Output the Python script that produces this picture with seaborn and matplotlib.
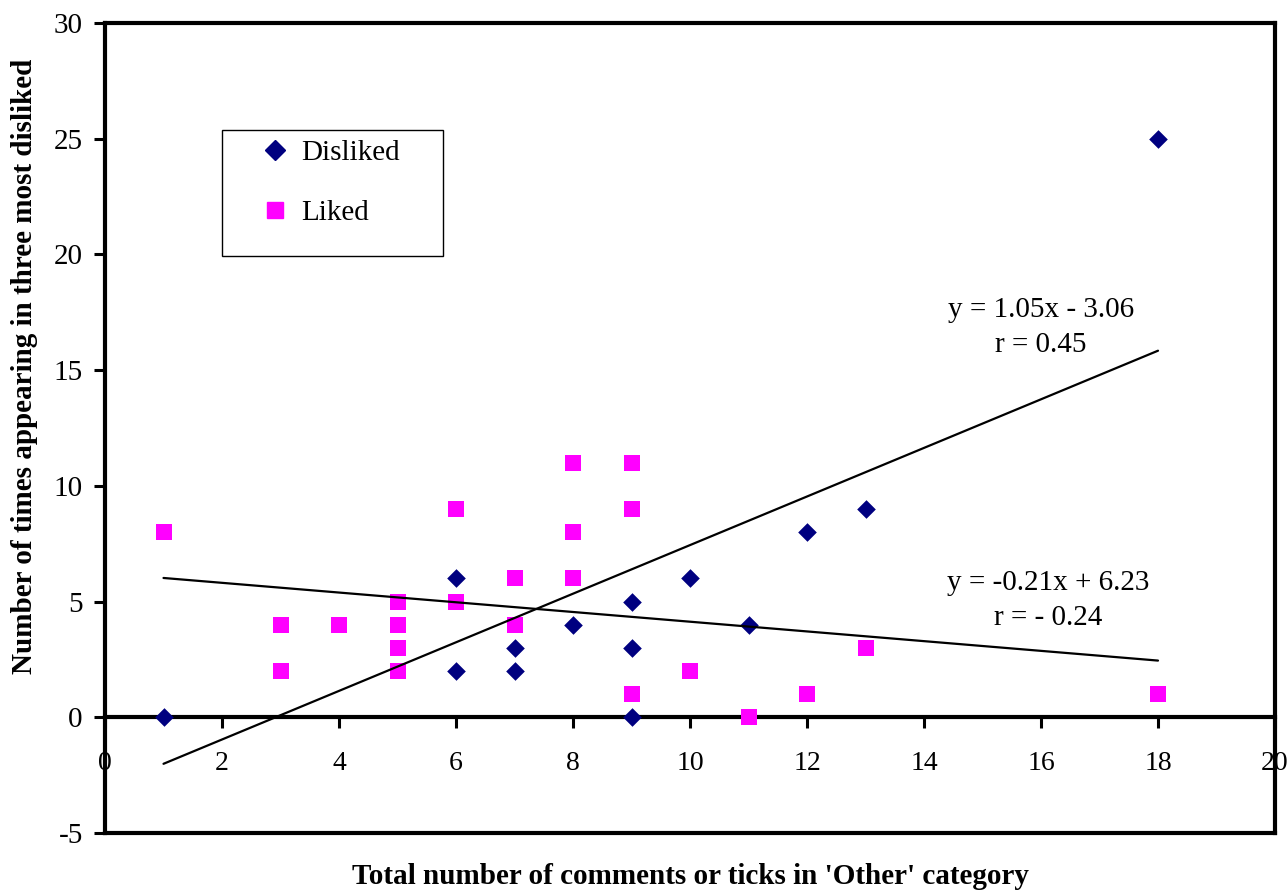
import matplotlib
matplotlib.use("Agg")
import matplotlib.pyplot as plt
import seaborn as sns
import pandas as pd
from matplotlib.lines import Line2D
from matplotlib.patches import Rectangle

# ---- data ----
disliked_x = [1, 18, 13, 12, 6, 10, 9, 8, 11, 7, 9, 6, 7, 9]
disliked_y = [0, 25, 9, 8, 6, 6, 5, 4, 4, 3, 3, 2, 2, 0]
liked_x = [1, 3, 3, 4, 5, 5, 5, 5, 6, 6, 7, 7, 8, 8, 8, 9, 9, 9, 10, 11, 12, 13, 18]
liked_y = [8, 4, 2, 4, 5, 4, 3, 2, 9, 5, 6, 4, 11, 8, 6, 11, 9, 1, 2, 0, 1, 3, 1]

fit_names = ["Disliked", "Liked"]
fit_slopes = [1.05, -0.21]
fit_intercepts = [-3.06, 6.23]
fit_xrange = [1, 18]
fit_labels = ["y = 1.05x - 3.06\nr = 0.45", "y = -0.21x + 6.23\nr = - 0.24"]
fit_label_pos = [(16.0, 16.84), (16.12, 5.05)]

x_ticks = [0, 2, 4, 6, 8, 10, 12, 14, 16, 18, 20]
y_ticks = [-5, 0, 5, 10, 15, 20, 25, 30]

xlabel = "Total number of comments or ticks in 'Other' category"
ylabel = "Number of times appearing in three most disliked"

NAVY = "#000080"
MAGENTA = "#FF00FF"

# ---- style ----
sns.set_style("white")
plt.rcParams["font.family"] = ["Liberation Serif", "DejaVu Serif"]
for k in ["text.color", "axes.labelcolor", "xtick.color", "ytick.color"]:
    plt.rcParams[k] = "black"

fig = plt.figure(figsize=(12.87, 8.9), dpi=100)
ax = fig.add_axes([105 / 1287, 1 - 833 / 890, (1275 - 105) / 1287, (833 - 23) / 890])

df_d = pd.DataFrame({"x": disliked_x, "y": disliked_y})
df_l = pd.DataFrame({"x": liked_x, "y": liked_y})

sns.scatterplot(data=df_d, x="x", y="y", ax=ax, marker="D", s=90, color=NAVY,
                edgecolor=NAVY, linewidth=0, zorder=3)
sns.scatterplot(data=df_l, x="x", y="y", ax=ax, marker="s", s=135, color=MAGENTA,
                edgecolor=MAGENTA, linewidth=0, zorder=4)

for m, b in zip(fit_slopes, fit_intercepts):
    xs = fit_xrange
    ys = [m * v + b for v in xs]
    sns.lineplot(x=xs, y=ys, ax=ax, color="black", linewidth=1.6, zorder=5)

for txt, (tx, ty) in zip(fit_labels, fit_label_pos):
    ax.text(tx, ty, txt, ha="center", va="center", multialignment="center",
            fontsize=21, linespacing=1.45, color="black")

ax.set_xlim(0, 20)
ax.set_ylim(-5, 30)
ax.set_xticks(x_ticks)
ax.set_yticks(y_ticks)
ax.set_xticklabels([str(v) for v in x_ticks])
ax.set_yticklabels([str(v) for v in y_ticks])

lw = 3.0
for sp in ax.spines.values():
    sp.set_color("black")
    sp.set_linewidth(lw)
ax.spines["bottom"].set_position(("data", 0))
ax.plot([0, 1], [0, 0], transform=ax.transAxes, color="black", lw=lw,
        clip_on=False, solid_capstyle="projecting", zorder=6)

ax.tick_params(axis="both", which="major", bottom=True, left=True,
               top=False, right=False, direction="out", length=8, width=2.2,
               colors="black")
ax.tick_params(axis="x", pad=16, labelsize=20)
ax.tick_params(axis="y", pad=8, labelsize=21)

ax.set_xlabel("")
ax.set_ylabel("")
fig.text(690 / 1287, 1 - 877 / 890, xlabel, ha="center", va="center",
         fontsize=21, fontweight="bold")
fig.text(25 / 1287, 1 - 366 / 890, ylabel, ha="center", va="center",
         fontsize=21, fontweight="bold", rotation=90)

# legend: box + entries
ax.add_patch(Rectangle((0.1, 0.7123), 0.2889 - 0.1, 0.8679 - 0.7123,
                       transform=ax.transAxes, facecolor="white",
                       edgecolor="black", linewidth=1.0, zorder=7))
handles = [
    Line2D([], [], marker="D", color=NAVY, linestyle="none", markersize=10),
    Line2D([], [], marker="s", color=MAGENTA, linestyle="none", markersize=11.5),
]
leg = ax.legend(handles, ["Disliked", "Liked"], loc="upper left",
                bbox_to_anchor=(0.125, 0.867), fontsize=21, frameon=False,
                borderpad=0.3, labelspacing=1.15, handlelength=1.0,
                handletextpad=0.4, borderaxespad=0)
leg.set_zorder(8)

fig.savefig("out.png", dpi=100)
